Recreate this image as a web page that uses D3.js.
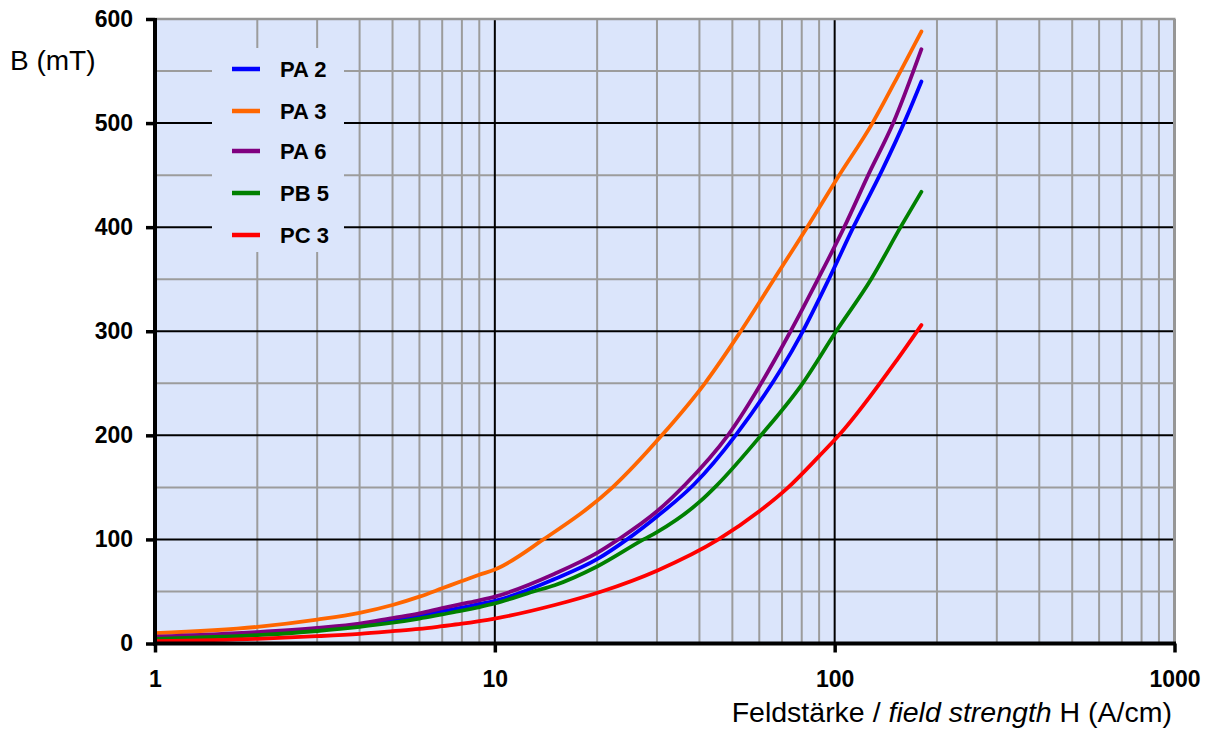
<!DOCTYPE html>
<html>
<head>
<meta charset="utf-8">
<script src="https://cdn.jsdelivr.net/npm/d3@7"></script>
<style>
  html, body { margin: 0; padding: 0; background: #ffffff; }
  svg { display: block; font-family: "Liberation Sans", Arial, sans-serif; }
</style>
</head>
<body>
<svg id="chart" width="1210" height="740"></svg>
<script>
// ---- data (H in A/cm, B in mT) ----
const seriesNames = ["PA 2", "PA 3", "PA 6", "PB 5", "PC 3"];
const seriesColors = ["#0000ff", "#ff6600", "#800080", "#008000", "#ff0000"];

const PA2 = [[1,5.5],[2,9.5],[3,13.5],[4,17.5],[5,22],[6,26.5],[7,31],[8,34.5],[9,38],[10,41],[15,62],[20,81],[24.5,100],[30,122],[38.6,153],[51.1,200],[79.4,296],[96.1,350],[113.5,400],[138.1,455],[162.4,505],[180,540]];
const PA3 = [[1,10],[2,16],[3,23],[4,29.5],[5,37],[6,45],[7,53],[8,60],[9,66],[10,71],[13.9,100],[22.2,150],[31,200],[41.5,250],[52.2,297],[66.3,350],[83,400],[101.8,447],[129.2,500],[156.3,550],[180,588]];
const PA6 = [[1,6.5],[2,11],[3,15],[4,19],[5,24.5],[6,29],[7,34],[8,38],[9,41.5],[10,45],[15,67],[20,87],[23.1,100],[30,127],[36.4,153],[48.5,200],[74.2,300],[89.3,350],[106.7,400],[125.5,450],[148.7,500],[180,571]];
const PB5 = [[1,4.5],[2,8],[3,12],[4,16],[5,20],[6,24],[7,28],[8,31.5],[9,35],[10,38.5],[13,50],[15,56],[20,74],[27.4,100],[30,107],[40,136],[45,152],[60.7,200],[80.5,250],[101,300],[128,350],[156.3,400],[180,434]];
const PC3 = [[1,2.2],[2,4.5],[3,7],[4,9.3],[5,11.8],[6,14],[7,16.6],[8,19],[9,21.5],[10,24],[15,37],[20.6,50],[30,70],[45.5,100],[60,127],[73,150],[90,180],[102.9,200],[152.6,272.6],[180,306]];
const seriesData = [PA2, PA3, PA6, PB5, PC3];

const xTicks = [1, 10, 100, 1000];
const yTicks = [0, 100, 200, 300, 400, 500, 600];
const yMinor = [50, 150, 250, 350, 450, 550];
const xTitlePlain = "Feldstärke / ";
const xTitleItalic = "field strength";
const xTitleTail = " H (A/cm)";
const yTitle = "B (mT)";

// ---- layout ----
const L = 155, R = 1174.5, T = 19, B = 643.5;
const svg = d3.select("#chart");
const x = d3.scaleLog().domain([1, 1000]).range([L, R]);
const y = d3.scaleLinear().domain([0, 600]).range([B, T]);

// background
svg.append("rect").attr("x", L).attr("y", T).attr("width", R - L).attr("height", B - T)
  .attr("fill", "#dbe5fb");

// minor vertical grid
const xMinor = [];
[1, 10, 100].forEach(d => { for (let k = 2; k <= 9; k++) xMinor.push(d * k); });
svg.append("g").selectAll("line").data(xMinor).join("line")
  .attr("x1", d => x(d)).attr("x2", d => x(d)).attr("y1", T).attr("y2", B)
  .attr("stroke", "#9c9c9c").attr("stroke-width", 2);
// minor horizontal grid
svg.append("g").selectAll("line").data(yMinor).join("line")
  .attr("x1", L).attr("x2", R).attr("y1", d => y(d)).attr("y2", d => y(d))
  .attr("stroke", "#9c9c9c").attr("stroke-width", 2);
// major grid
svg.append("g").selectAll("line").data([10, 100]).join("line")
  .attr("x1", d => x(d)).attr("x2", d => x(d)).attr("y1", T).attr("y2", B)
  .attr("stroke", "#000").attr("stroke-width", 2);
svg.append("g").selectAll("line").data([100, 200, 300, 400, 500]).join("line")
  .attr("x1", L).attr("x2", R).attr("y1", d => y(d)).attr("y2", d => y(d))
  .attr("stroke", "#000").attr("stroke-width", 2);
// top / right border
svg.append("line").attr("x1", L).attr("x2", R + 1).attr("y1", T).attr("y2", T)
  .attr("stroke", "#969696").attr("stroke-width", 2.5);
svg.append("line").attr("x1", R).attr("x2", R).attr("y1", T).attr("y2", B)
  .attr("stroke", "#969696").attr("stroke-width", 3);

// legend box (covers grid)
const lg = svg.append("g");
lg.append("rect").attr("x", 212).attr("y", 48).attr("width", 132).attr("height", 204)
  .attr("fill", "#dbe5fb");
const legY = [69, 111, 151, 193, 235];
seriesNames.forEach((n, i) => {
  lg.append("line").attr("x1", 232).attr("x2", 260).attr("y1", legY[i]).attr("y2", legY[i])
    .attr("stroke", seriesColors[i]).attr("stroke-width", 4.5);
  lg.append("text").attr("x", 280).attr("y", legY[i] + 8)
    .attr("font-size", 22).attr("font-weight", "bold").attr("fill", "#000").text(n);
});

// curves
const line = d3.line().x(d => x(d[0])).y(d => y(d[1])).curve(d3.curveMonotoneX);
seriesData.forEach((s, i) => {
  svg.append("path").datum(s).attr("d", line).attr("fill", "none")
    .attr("stroke", seriesColors[i]).attr("stroke-width", 3.8)
    .attr("stroke-linejoin", "round").attr("stroke-linecap", "round");
});

// axes
const yAxis = d3.axisLeft(y).tickValues(yTicks).tickSize(9).tickPadding(13).tickFormat(d3.format("d"));
const gy = svg.append("g").attr("transform", `translate(${L},0)`).call(yAxis);
const xAxis = d3.axisBottom(x).tickValues(xTicks).tickSize(9).tickPadding(18).tickFormat(d3.format("d"));
const gx = svg.append("g").attr("transform", `translate(0,${B})`).call(xAxis);
[gx, gy].forEach(g => {
  g.select(".domain").remove();
  g.selectAll(".tick line").attr("stroke", "#000").attr("stroke-width", 3.5);
  g.selectAll(".tick text").attr("font-size", 23).attr("font-weight", "bold")
    .attr("fill", "#000").attr("font-family", "Liberation Sans, Arial, sans-serif");
});
svg.append("line").attr("x1", L).attr("x2", L).attr("y1", T - 1).attr("y2", B + 2)
  .attr("stroke", "#000").attr("stroke-width", 4);
svg.append("line").attr("x1", L - 2).attr("x2", R + 1.5).attr("y1", B).attr("y2", B)
  .attr("stroke", "#000").attr("stroke-width", 4);

// titles
svg.append("text").attr("x", 10).attr("y", 70).attr("font-size", 28).attr("fill", "#000").text(yTitle);
const xt = svg.append("text").attr("x", 1172).attr("y", 722).attr("text-anchor", "end")
  .attr("font-size", 28.5).attr("fill", "#000");
xt.append("tspan").text(xTitlePlain);
xt.append("tspan").attr("font-style", "italic").text(xTitleItalic);
xt.append("tspan").text(xTitleTail);
</script>
</body>
</html>
